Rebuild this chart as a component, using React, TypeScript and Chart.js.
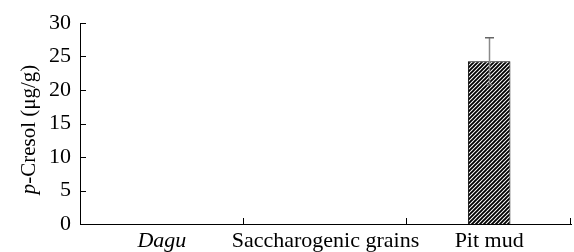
import React, { useEffect, useRef } from "react";
import { Chart, registerables } from "chart.js";

Chart.register(...registerables);

const categories = ["Dagu", "Saccharogenic grains", "Pit mud"];
const values = [0, 0, 24.3];
const errors = [0, 0, 3.5];
const yMin = 0;
const yMax = 30;
const yStep = 5;
const yTitleItalic = "p";
const yTitleRest = "-Cresol (\u03bcg/g)";

const FONT = "'Liberation Serif', 'Times New Roman', serif";
const FS = 22;
const TFS = 21;

function makeHatch(ctx: CanvasRenderingContext2D) {
  const c = document.createElement("canvas");
  c.width = 4;
  c.height = 4;
  const g = c.getContext("2d")!;
  g.fillStyle = "#fff";
  g.fillRect(0, 0, 4, 4);
  g.strokeStyle = "#000";
  g.lineWidth = 1.9;
  g.beginPath();
  g.moveTo(0, 4);
  g.lineTo(4, 0);
  g.moveTo(-1, 1);
  g.lineTo(1, -1);
  g.moveTo(3, 5);
  g.lineTo(5, 3);
  g.stroke();
  return ctx.createPattern(c, "repeat")!;
}

const decorPlugin = {
  id: "decor",
  afterDatasetsDraw(chart: any) {
    const { ctx, chartArea, scales } = chart;
    const x = scales.x;
    const y = scales.y;
    ctx.save();
    ctx.strokeStyle = "#000";
    ctx.lineWidth = 1;
    for (let v = yMin; v <= yMax; v += yStep) {
      const py = Math.round(y.getPixelForValue(v)) + 0.5;
      ctx.beginPath();
      ctx.moveTo(chartArea.left, py);
      ctx.lineTo(chartArea.left + 6, py);
      ctx.stroke();
    }
    for (let i = 0; i < categories.length; i++) {
      const px =
        i < categories.length - 1
          ? (x.getPixelForValue(i) + x.getPixelForValue(i + 1)) / 2
          : chartArea.right;
      const rx = Math.round(px) - 0.5;
      ctx.beginPath();
      ctx.moveTo(rx, chartArea.bottom);
      ctx.lineTo(rx, chartArea.bottom - 6);
      ctx.stroke();
    }
    const meta = chart.getDatasetMeta(0);
    meta.data.forEach((bar: any, i: number) => {
      if (!errors[i]) return;
      const cx = Math.round(bar.x) + 0.5;
      const top = y.getPixelForValue(values[i] + errors[i]);
      const bot = y.getPixelForValue(values[i] - errors[i]);
      ctx.strokeStyle = "#8a8a8a";
      ctx.lineWidth = 1.5;
      ctx.beginPath();
      ctx.moveTo(cx, top);
      ctx.lineTo(cx, bot);
      ctx.stroke();
      ctx.strokeStyle = "#666";
      ctx.beginPath();
      ctx.moveTo(cx - 4.5, top);
      ctx.lineTo(cx + 4.5, top);
      ctx.moveTo(cx - 3, bot);
      ctx.lineTo(cx + 3, bot);
      ctx.stroke();
    });
    ctx.restore();
  },
  afterDraw(chart: any) {
    const { ctx, chartArea } = chart;
    ctx.save();
    const cy = (chartArea.top + chartArea.bottom) / 2 + 6;
    const cx = chartArea.left - 51;
    ctx.translate(cx, cy);
    ctx.rotate(-Math.PI / 2);
    ctx.fillStyle = "#000";
    ctx.textBaseline = "middle";
    ctx.font = `italic ${TFS}px ${FONT}`;
    const w1 = ctx.measureText(yTitleItalic).width;
    ctx.font = `${TFS}px ${FONT}`;
    const w2 = ctx.measureText(yTitleRest).width;
    const start = -(w1 + w2) / 2;
    ctx.textAlign = "left";
    ctx.font = `italic ${TFS}px ${FONT}`;
    ctx.fillText(yTitleItalic, start, 0);
    ctx.font = `${TFS}px ${FONT}`;
    ctx.fillText(yTitleRest, start + w1, 0);
    ctx.restore();
  },
};

export default function App() {
  const ref = useRef<HTMLCanvasElement>(null);
  useEffect(() => {
    const canvas = ref.current!;
    const ctx = canvas.getContext("2d")!;
    const hatch = makeHatch(ctx);
    const chart = new Chart(canvas, {
      type: "bar",
      data: {
        labels: categories,
        datasets: [
          {
            data: values,
            backgroundColor: hatch,
            borderColor: "#000",
            borderWidth: 1,
            borderSkipped: "start",
            barPercentage: 0.26,
            categoryPercentage: 1,
          },
        ],
      },
      options: {
        responsive: false,
        animation: false,
        devicePixelRatio: 1,
        layout: { padding: { top: 23, right: 3, left: 0, bottom: 0 } },
        plugins: { legend: { display: false }, tooltip: { enabled: false } },
        scales: {
          x: {
            grid: { display: false, drawTicks: false },
            border: { display: true, color: "#000", width: 1 },
            ticks: {
              color: "#000",
              padding: 4,
              maxRotation: 0,
              autoSkip: false,
              font: (c: any) => ({
                family: FONT,
                size: FS,
                style: c.index === 0 ? "italic" : "normal",
              }),
            },
            afterFit: (s: any) => {
              s.height = 28;
            },
          },
          y: {
            min: yMin,
            max: yMax,
            grid: { display: false, drawTicks: false },
            border: { display: true, color: "#000", width: 1 },
            ticks: {
              stepSize: yStep,
              color: "#000",
              padding: 9,
              font: { family: FONT, size: FS },
            },
            afterFit: (s: any) => {
              s.width = 80;
            },
          },
        },
      },
      plugins: [decorPlugin],
    });
    return () => chart.destroy();
  }, []);
  return (
    <div style={{ position: "fixed", left: 0, top: 0, width: 574, height: 252, background: "#fff" }}>
      <canvas ref={ref} width={574} height={252} style={{ width: 574, height: 252, display: "block" }} />
    </div>
  );
}
